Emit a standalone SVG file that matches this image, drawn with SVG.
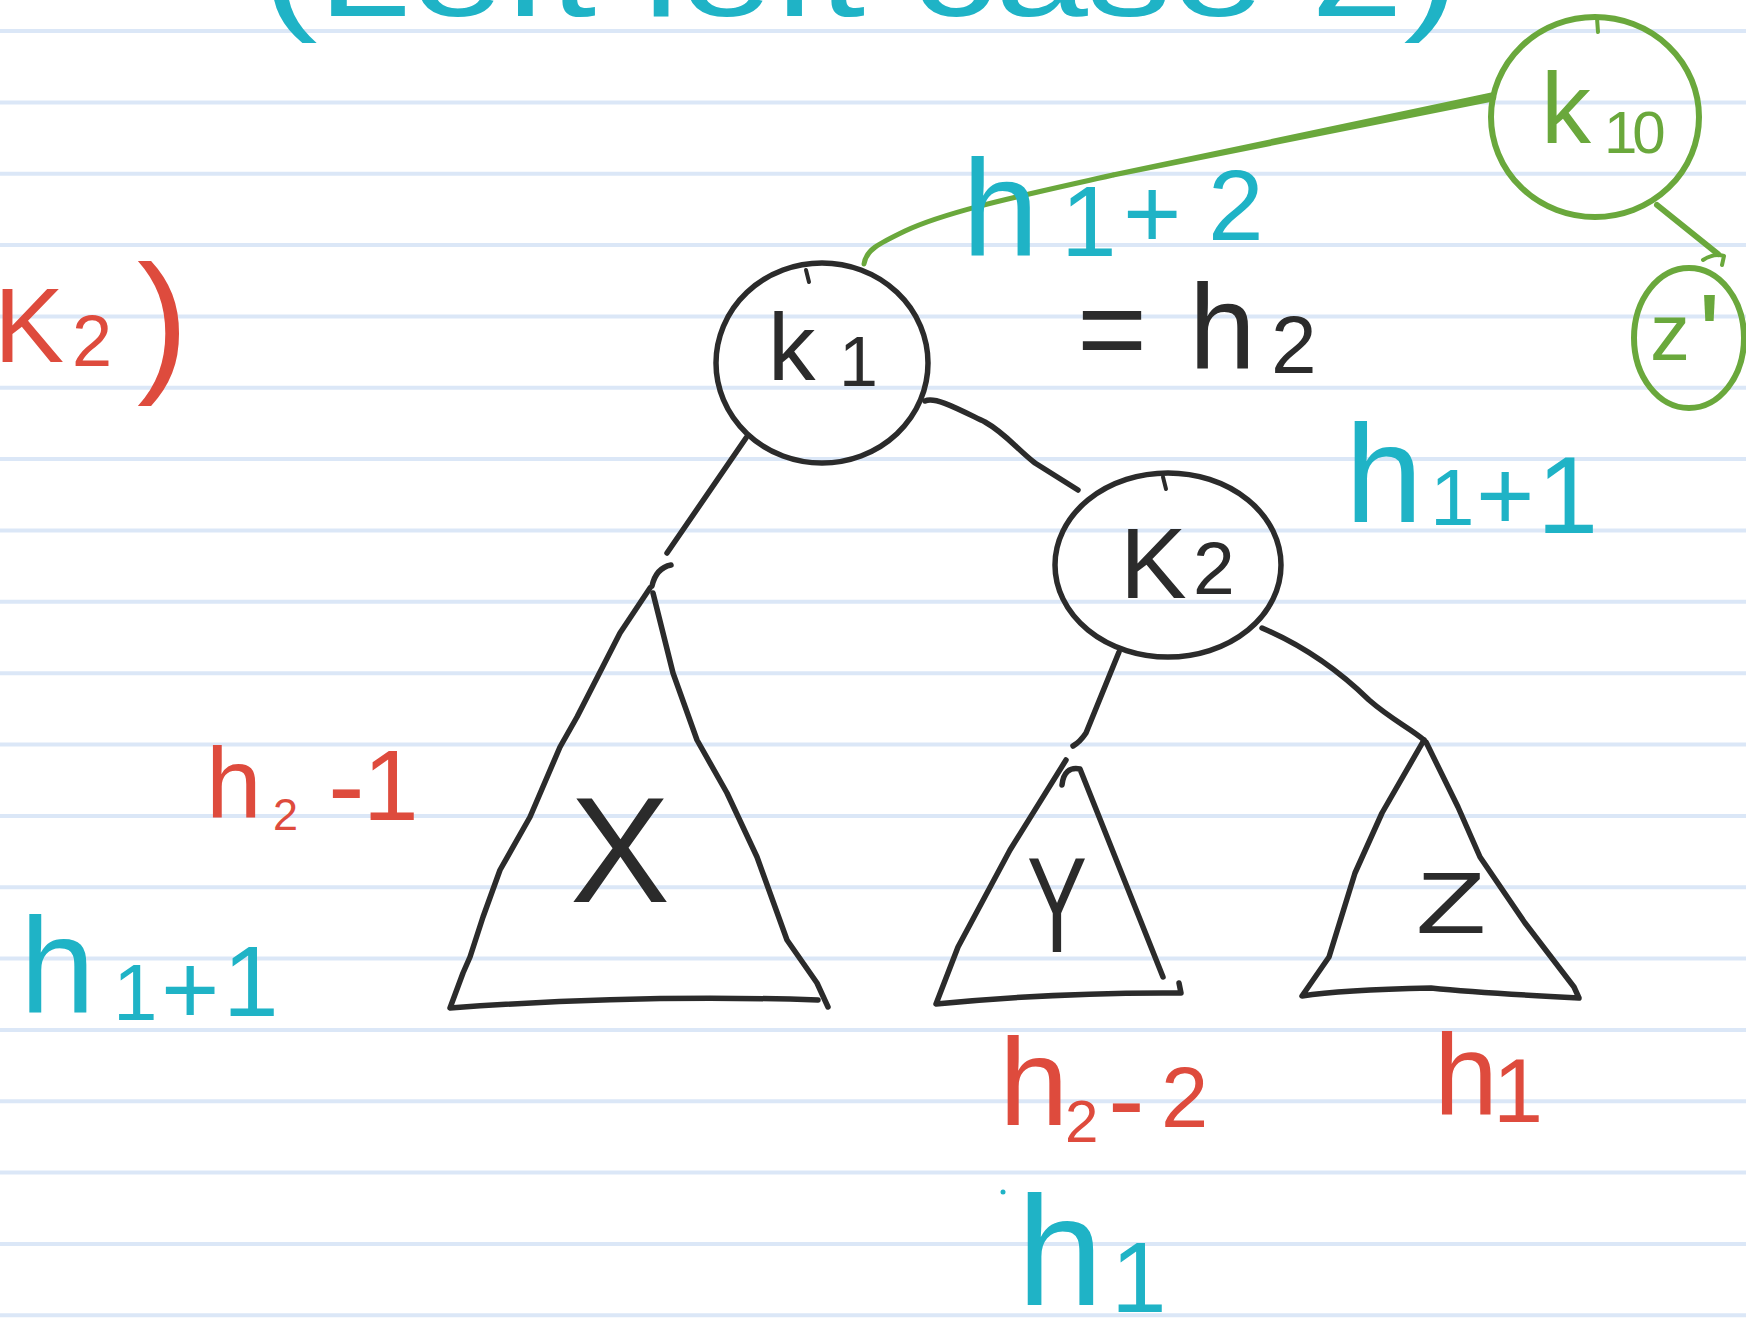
<svg xmlns="http://www.w3.org/2000/svg" width="1746" height="1325" viewBox="0 0 1746 1325">
<style>
.ink{fill:none;stroke:#2b2b2b;stroke-width:5.5;stroke-linecap:round;stroke-linejoin:round}
.gr{fill:none;stroke:#6aa83c;stroke-width:6;stroke-linecap:round;stroke-linejoin:round}
.thin{stroke-width:4}
.g5{stroke-width:5}
.gfill{fill:#6aa83c;stroke:none}
.rule{stroke:#dbe7f7;stroke-width:4}
text{font-family:"Liberation Sans",Arial,sans-serif}
.cy{fill:#1fb3c6}.rd{fill:#de4b3d}.bk{fill:#2b2b2b}.gt{fill:#6aa83c}
</style>
<rect width="1746" height="1325" fill="#ffffff"/>
<g id="paper-lines" class="rule">
<line x1="0" y1="31" x2="1746" y2="31"/>
<line x1="0" y1="102.4" x2="1746" y2="102.4"/>
<line x1="0" y1="173.7" x2="1746" y2="173.7"/>
<line x1="0" y1="245" x2="1746" y2="245"/>
<line x1="0" y1="316.4" x2="1746" y2="316.4"/>
<line x1="0" y1="387.8" x2="1746" y2="387.8"/>
<line x1="0" y1="459.1" x2="1746" y2="459.1"/>
<line x1="0" y1="530.5" x2="1746" y2="530.5"/>
<line x1="0" y1="601.8" x2="1746" y2="601.8"/>
<line x1="0" y1="673.2" x2="1746" y2="673.2"/>
<line x1="0" y1="744.5" x2="1746" y2="744.5"/>
<line x1="0" y1="815.9" x2="1746" y2="815.9"/>
<line x1="0" y1="887.2" x2="1746" y2="887.2"/>
<line x1="0" y1="958.6" x2="1746" y2="958.6"/>
<line x1="0" y1="1029.9" x2="1746" y2="1029.9"/>
<line x1="0" y1="1101.3" x2="1746" y2="1101.3"/>
<line x1="0" y1="1172.6" x2="1746" y2="1172.6"/>
<line x1="0" y1="1244" x2="1746" y2="1244"/>
<line x1="0" y1="1315.3" x2="1746" y2="1315.3"/>
</g>

<g id="title">
<text class="cy" x="262" y="16" font-size="130" textLength="1197" lengthAdjust="spacingAndGlyphs">(Left left case 2)</text>
</g>

<g id="connectors">
<path class="gr g5" d="M864 264 C866 250 878 244 905 231 C950 210 1030 194 1113 175"/>
<path class="gfill" d="M1112.5 172.6 L1491.1 92.6 A4.5 4.5 0 0 1 1492.9 101.4 L1113.5 177.4 Z"/>
<path class="gr" d="M1657 205 L1718 254"/>
<path class="gr thin" d="M1703 260 Q1714 253 1724 256 L1722 265"/>
<path class="ink" d="M746 438 L667 553"/>
<path class="ink" d="M925 401 C935 396 960 410 985 422 C1005 433 1018 450 1035 463 L1078 490"/>
<path class="ink" d="M1119 652 L1086 733 Q1080 742 1073 746"/>
<path class="ink" d="M1262 628 C1295 642 1330 662 1369 700 C1392 720 1410 728 1424 740"/>
</g>

<g id="node-k10">
<ellipse class="gr" cx="1595" cy="117" rx="104" ry="100"/>
<path class="gr thin" d="M1597 18 L1598 32"/>
<text class="gt"><tspan x="1541" y="143" font-size="100">k</tspan><tspan x="1604" y="153" font-size="60" letter-spacing="-5">10</tspan></text>
</g>

<g id="node-zprime">
<ellipse class="gr" cx="1689" cy="338" rx="55" ry="70"/>
<text class="gt"><tspan x="1650" y="360" font-size="80">z</tspan><tspan x="1698" y="378" font-size="120">'</tspan></text>
</g>

<g id="node-k1">
<ellipse class="ink" cx="822" cy="363" rx="106" ry="100"/>
<path class="ink thin" d="M806 270 L809 282"/>
<text class="bk"><tspan x="768" y="380" font-size="95">k</tspan><tspan x="839" y="386" font-size="70">1</tspan></text>
</g>

<g id="node-k2">
<ellipse class="ink" cx="1168" cy="565" rx="113" ry="92"/>
<path class="ink thin" d="M1163 477 L1166 489"/>
<text class="bk"><tspan x="1120" y="598" font-size="100">K</tspan><tspan x="1193" y="594" font-size="75">2</tspan></text>
</g>

<g id="node-X">
<path class="ink" d="M652 586 Q656 568 671 565"/>
<path class="ink" d="M650 588 L620 633 L577 717 L560 747 L530 817 L500 870 L483 917 L470 957 L463 973 L450 1008 Q640 994 818 1000"/>
<path class="ink" d="M653 593 L673 673 L697 740 L727 793 L757 857 L787 940 L817 983 L828 1007"/>
<text class="bk" x="570" y="902" font-size="150" textLength="100" lengthAdjust="spacingAndGlyphs">X</text>
</g>

<g id="node-Y">
<path class="ink" d="M1066 760 L1010 850 L958 947 L936 1004 Q1060 992 1181 993 L1179 983"/>
<path class="ink" d="M1062 785 Q1064 766 1080 769 L1163 977"/>
<text class="bk" x="1027" y="952" font-size="135" textLength="60" lengthAdjust="spacingAndGlyphs">Y</text>
</g>

<g id="node-Z">
<path class="ink" d="M1424 740 L1382 813 L1355 873 L1329 957 L1302 996 Q1340 990 1431 988 Q1480 993 1579 998 L1574 987 L1525 923 L1480 857 L1458 807 L1426 742"/>
<text class="bk" x="1416" y="933" font-size="88" textLength="70" lengthAdjust="spacingAndGlyphs">Z</text>
</g>

<g id="labels">
<text class="cy"><tspan x="962" y="256" font-size="138">h</tspan><tspan x="1061" y="256" font-size="100">1</tspan><tspan x="1123" y="248" font-size="100">+</tspan><tspan x="1208" y="240" font-size="100">2</tspan></text>
<text class="bk"><tspan x="1077" y="370" font-size="120">=</tspan><tspan x="1189" y="368" font-size="120">h</tspan><tspan x="1271" y="373" font-size="82">2</tspan></text>
<text class="cy"><tspan x="1345" y="522" font-size="140">h</tspan><tspan x="1430" y="525" font-size="80">1</tspan><tspan x="1476" y="530" font-size="100">+</tspan><tspan x="1537" y="533" font-size="110">1</tspan></text>
<text class="rd"><tspan x="-6" y="362" font-size="105">K</tspan><tspan x="72" y="366" font-size="72">2</tspan><tspan x="137" y="374" font-size="155">)</tspan></text>
<text class="rd"><tspan x="206" y="818" font-size="100">h</tspan><tspan x="273" y="830" font-size="45">2</tspan><tspan x="328" y="823" font-size="110">-</tspan><tspan x="363" y="820" font-size="100">1</tspan></text>
<text class="cy"><tspan x="20" y="1012" font-size="135">h</tspan><tspan x="113" y="1020" font-size="80">1</tspan><tspan x="161" y="1024" font-size="100">+</tspan><tspan x="223" y="1016" font-size="100">1</tspan></text>
<text class="rd"><tspan x="999" y="1125" font-size="125">h</tspan><tspan x="1065" y="1142" font-size="60">2</tspan><tspan x="1108" y="1137" font-size="110">-</tspan><tspan x="1161" y="1127" font-size="85">2</tspan></text>
<text class="rd"><tspan x="1434" y="1114" font-size="115">h</tspan><tspan x="1493" y="1122" font-size="90">1</tspan></text>
<text class="cy"><tspan x="1017" y="1305" font-size="155">h</tspan><tspan x="1111" y="1312" font-size="100">1</tspan></text>
<circle cx="1003" cy="1192" r="2.5" fill="#1fb3c6"/>
</g>
</svg>
